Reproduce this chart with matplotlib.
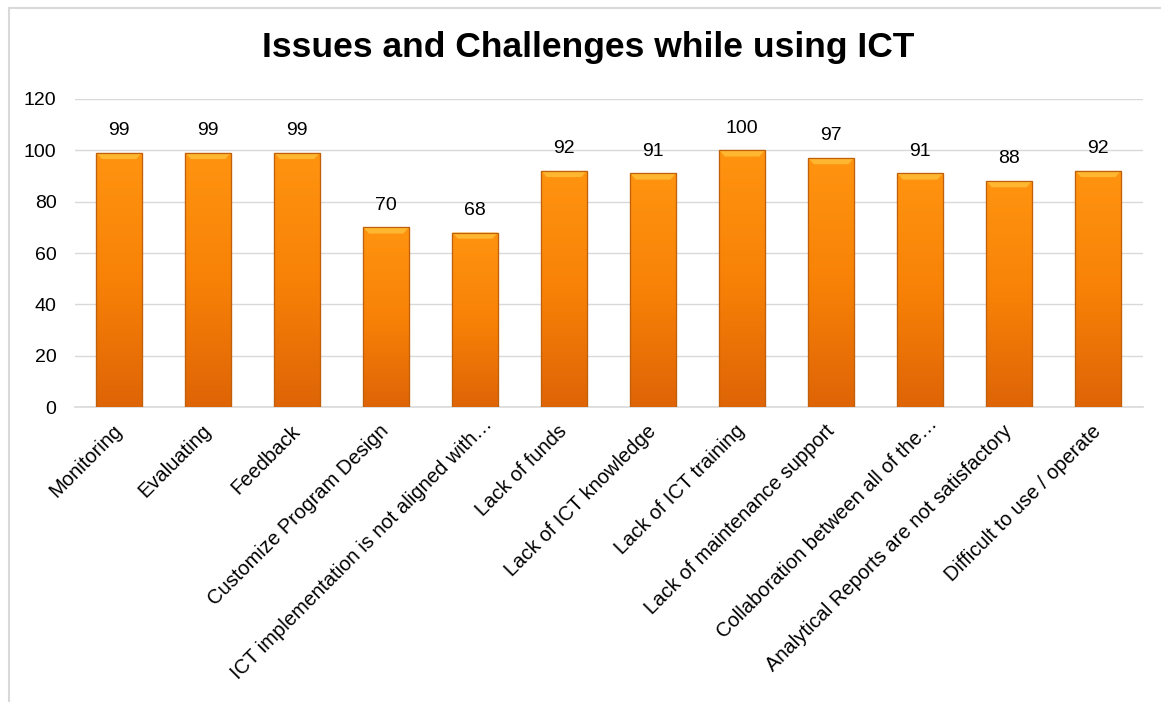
import numpy as np
import matplotlib
matplotlib.use("Agg")
import matplotlib.pyplot as plt
from matplotlib.patches import Rectangle, Polygon
from matplotlib.colors import LinearSegmentedColormap
from matplotlib.transforms import ScaledTranslation

categories = ["Monitoring", "Evaluating", "Feedback", "Customize Program Design",
              "ICT implementation is not aligned with\u2026", "Lack of funds",
              "Lack of ICT knowledge", "Lack of ICT training",
              "Lack of maintenance support", "Collaboration between all of the\u2026",
              "Analytical Reports are not satisfactory", "Difficult to use / operate"]
values = [99, 99, 99, 70, 68, 92, 91, 100, 97, 91, 88, 92]
yticks = [0, 20, 40, 60, 80, 100, 120]

plt.rcParams["font.family"] = ["Liberation Sans", "DejaVu Sans"]

fig = plt.figure(figsize=(11.61, 7.02), dpi=100)
ax = fig.add_axes([0.0642, 0.420, 0.920, 0.439])

x = np.arange(len(categories))
bars = ax.bar(x, values, width=0.51, color="#F8860C", edgecolor="#C9640A",
              linewidth=0.8, zorder=3)

# vertical gradient clipped to each bar, plus a light bevel on top
cmap = LinearSegmentedColormap.from_list("orng", ["#DE6406", "#F88207", "#FF9410"])
grad = np.linspace(0, 1, 256).reshape(-1, 1)
bevel = 2.4
for b in bars:
    x0, w, h = b.get_x(), b.get_width(), b.get_height()
    im = ax.imshow(grad, cmap=cmap, origin="lower", aspect="auto",
                   extent=[x0, x0 + w, 0, h], zorder=3)
    im.set_clip_path(b)
    dx = w * 0.12
    ax.add_patch(Polygon([[x0, h], [x0 + w, h], [x0 + w - dx, h - bevel], [x0 + dx, h - bevel]],
                         closed=True, facecolor="#FFB732", edgecolor="none", zorder=4))
    ax.add_patch(Rectangle((x0, 0), w, h, fill=False, edgecolor="#C0600A",
                           linewidth=0.9, zorder=5))

for xi, v in zip(x, values):
    ax.annotate(str(v), (xi, v), xytext=(0, 16), textcoords="offset points",
                ha="center", va="center", fontsize=14, color="#000000")

ax.set_xlim(-0.5, len(categories) - 0.5)
ax.set_ylim(0, 120)
ax.set_yticks(yticks)
ax.set_xticks(x)
ax.set_xticklabels(categories, rotation=45, ha="right", va="center",
                   rotation_mode="anchor", fontsize=14.5)
ax.tick_params(axis="both", length=0, colors="#000000")
ax.tick_params(axis="y", labelsize=14, pad=13)
ax.tick_params(axis="x", pad=15)

# truncated labels sit a little further right in the original
for lab in ax.get_xticklabels():
    if lab.get_text().endswith("\u2026"):
        lab.set_transform(lab.get_transform() + ScaledTranslation(0.14, 0.07, fig.dpi_scale_trans))

ax.grid(axis="y", color="#D9D9D9", linewidth=1, zorder=0)
ax.set_axisbelow(True)
for s in ["top", "right", "left"]:
    ax.spines[s].set_visible(False)
ax.spines["bottom"].set_color("#D9D9D9")
ax.spines["bottom"].set_linewidth(1.2)

fig.text(0.507, 0.932, "Issues and Challenges while using ICT", ha="center", va="center",
         fontsize=25.5, fontweight="bold", color="#000000")

# chart frame
fig.patches.append(Rectangle((9 / 1161, -0.05), 1.1, (702 - 8) / 702 + 0.05,
                             transform=fig.transFigure, fill=False,
                             edgecolor="#D9D9D9", linewidth=1.5))

fig.savefig("out.png", dpi=100)
